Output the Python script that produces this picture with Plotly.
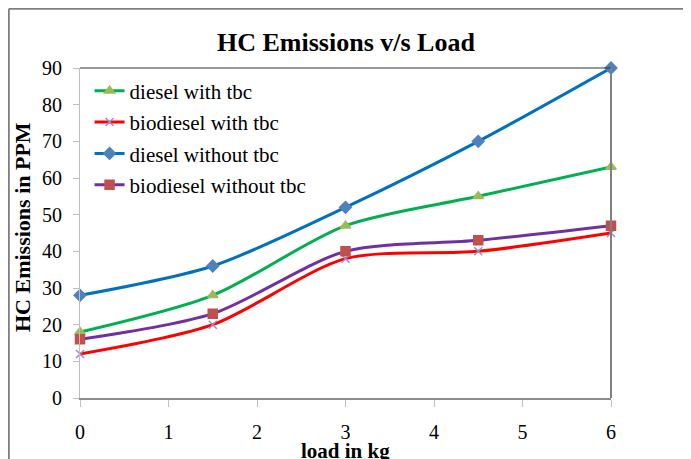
import plotly.graph_objects as go

load = [0, 1.5, 3, 4.5, 6]
diesel_tbc = [18, 28, 47, 55, 63]
biodiesel_tbc = [12, 20, 38, 40, 45]
diesel_no_tbc = [28, 36, 52, 70, 90]
biodiesel_no_tbc = [16, 23, 40, 43, 47]

x_ticks = [0, 1, 2, 3, 4, 5, 6]
y_ticks = [0, 10, 20, 30, 40, 50, 60, 70, 80, 90]

series = [
    ("diesel with tbc", diesel_tbc, "#00B050", "#9BBB59", "triangle-up", 9),
    ("biodiesel with tbc", biodiesel_tbc, "#FF0000", "#9D8CC8", "x-thin-open", 8),
    ("diesel without tbc", diesel_no_tbc, "#0070C0", "#4F81BD", "diamond", 9),
    ("biodiesel without tbc", biodiesel_no_tbc, "#7030A0", "#C0504D", "square", 9),
]

FONT = "Liberation Serif"

fig = go.Figure()
for i, (name, ys, lc, mc, sym, sz) in enumerate(series):
    fig.add_trace(go.Scatter(
        x=load, y=ys, name=name, mode="lines+markers",
        line=dict(color=lc, width=3, shape="spline", smoothing=0.8),
        marker=dict(color=mc, symbol=sym, size=sz,
                    line=dict(color=mc, width=1.5)),
        cliponaxis=False, legendgroup=f"g{i}",
    ))

# page body has an 8px margin, so figure coords = screen coords - 8
PW, PH, L, T = 531, 330, 72, 60
fig.update_layout(
    width=675, height=451,
    margin=dict(l=L, r=72, t=T, b=61),
    paper_bgcolor="white", plot_bgcolor="white",
    font=dict(family=FONT, size=20, color="black"),
    showlegend=True,
    legend=dict(x=0.018, y=0.992, xanchor="left", yanchor="top",
                bgcolor="rgba(0,0,0,0)",
                font=dict(size=21, family=FONT, color="black"),
                tracegroupgap=1, itemwidth=30),
    xaxis=dict(range=[0, 6], tickvals=x_ticks, showgrid=False, zeroline=False,
               showline=True, linecolor="#8C8C8C", linewidth=1.5,
               ticks="outside", ticklen=7, tickcolor="#C0C0C0",
               ticklabelstandoff=8,
               tickfont=dict(size=20, family=FONT, color="black")),
    yaxis=dict(range=[0, 90], tickvals=y_ticks, showgrid=False, zeroline=False,
               showline=True, linecolor="#BFBFBF", linewidth=1,
               ticks="outside", ticklen=6, tickcolor="#BFBFBF",
               ticklabelstandoff=7,
               tickfont=dict(size=20, family=FONT, color="black")),
    shapes=[
        dict(type="line", xref="paper", yref="paper", x0=0, x1=1, y0=1, y1=1,
             line=dict(color="#303030", width=1)),
        dict(type="line", xref="paper", yref="paper", x0=1, x1=1, y0=0, y1=1,
             line=dict(color="#808080", width=2)),
        # outer chart frame (left and top edges)
        dict(type="line", xref="paper", yref="paper",
             x0=(0.8 - L) / PW, x1=(0.8 - L) / PW, y0=1 + (T - 0.8) / PH, y1=-0.5,
             line=dict(color="#7F7F7F", width=2), layer="below"),
        dict(type="line", xref="paper", yref="paper",
             x0=(0.8 - L) / PW, x1=1.3, y0=1 + (T - 0.8) / PH, y1=1 + (T - 0.8) / PH,
             line=dict(color="#7F7F7F", width=2), layer="below"),
    ],
    annotations=[
        dict(text="<b>HC Emissions v/s Load</b>", xref="paper", yref="paper",
             x=0.5, y=1, yshift=26, showarrow=False, yanchor="middle",
             font=dict(size=26, family=FONT, color="black")),
        dict(text="<b>HC Emissions in PPM</b>", xref="paper", yref="paper",
             x=0, xshift=-58, y=0.5, yshift=6, showarrow=False, textangle=-90,
             xanchor="center", font=dict(size=22, family=FONT, color="black")),
        dict(text="<b>load in kg</b>", xref="paper", yref="paper",
             x=0.5, y=0, yshift=-53, showarrow=False, yanchor="middle",
             font=dict(size=21, family=FONT, color="black")),
    ],
)

fig.write_html("out.html")
